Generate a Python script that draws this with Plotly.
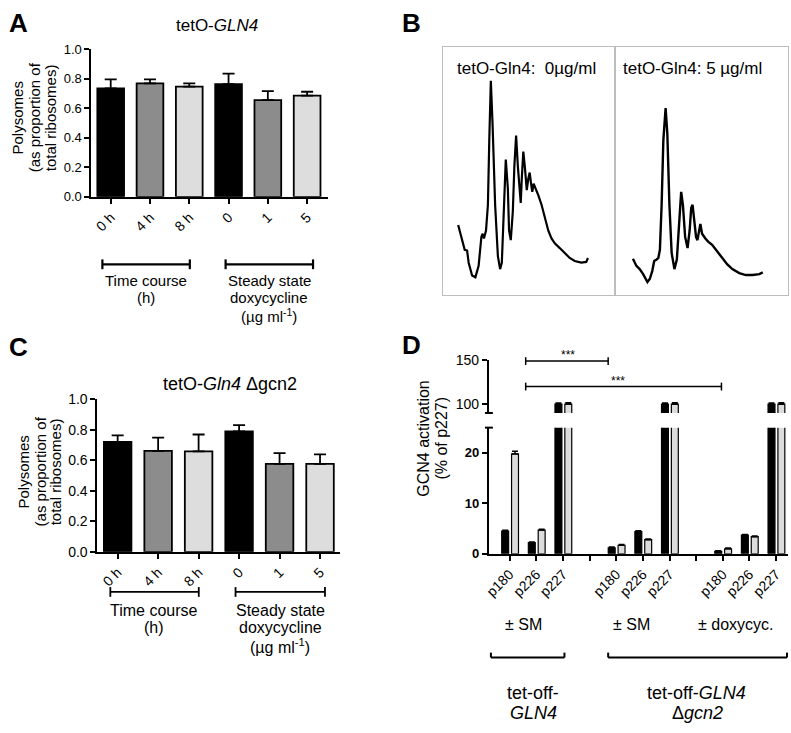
import plotly.graph_objects as go

W, H = 791, 733
def px(x): return x / W
def py(y): return 1 - y / H

FONT = "Arial, Liberation Sans, sans-serif"

# ---------------- data ----------------
a_cats = ["0 h", "4 h", "8 h", "0", "1", "5"]
a_vals = [0.733, 0.768, 0.746, 0.762, 0.654, 0.685]
a_errs = [0.062, 0.027, 0.022, 0.072, 0.061, 0.026]

c_cats = ["0 h", "4 h", "8 h", "0", "1", "5"]
c_vals = [0.720, 0.662, 0.658, 0.790, 0.577, 0.577]
c_errs = [0.043, 0.086, 0.111, 0.041, 0.070, 0.062]

bar_colors = ["#000000", "#8c8c8c", "#dddddd", "#000000", "#8c8c8c", "#dddddd"]

# polysome profiles (gradient position %, absorbance a.u.)
b0_pos = [8.7, 10.6, 12.5, 13.9, 14.8, 16.8, 18.7, 20.6, 22.2, 22.9, 23.7, 24.9, 26.0, 26.8, 27.7,
          28.7, 30.2, 31.8, 33.1, 34.1, 35.1, 36.4, 37.6, 38.3, 39.3, 40.5, 41.4, 42.4, 43.4, 44.3,
          45.1, 45.7, 46.6, 47.6, 48.6, 49.5, 50.3, 51.0, 51.8, 52.6, 53.4, 54.3, 55.3, 57.2, 59.1,
          61.1, 63.0, 64.9, 67.8, 70.7, 73.6, 76.5, 80.3, 83.2, 84.2]
b0_abs = [28.1, 23.3, 18.1, 17.8, 12.9, 7.7, 7.0, 11.6, 23.3, 24.6, 22.7, 25.9, 36.3, 62.4, 86.4,
          68.9, 36.3, 15.5, 10.3, 12.9, 29.8, 54.6, 42.9, 25.9, 22.0, 33.7, 52.0, 64.3, 52.0, 41.5,
          37.0, 46.8, 57.8, 50.7, 42.2, 46.8, 49.3, 45.4, 41.5, 44.8, 43.5, 41.5, 40.2, 36.3, 31.1,
          25.9, 22.7, 20.7, 18.8, 16.8, 14.8, 13.6, 12.9, 13.2, 14.8]
b5_pos = [10.3, 12.3, 14.2, 16.2, 18.7, 20.1, 21.5, 22.6, 24.0, 25.0, 25.9, 26.9, 27.9, 29.2, 30.2,
          31.4, 32.7, 34.3, 35.7, 37.0, 38.2, 39.2, 40.5, 41.9, 43.1, 44.0, 44.8, 45.8, 46.8, 47.6,
          48.4, 49.3, 50.3, 51.3, 52.2, 53.8, 56.1, 59.1, 62.0, 64.9, 67.8, 71.8, 75.6, 79.5, 83.4, 85.4]
b5_abs = [14.5, 11.6, 10.3, 8.3, 5.1, 6.4, 9.6, 13.6, 14.2, 14.8, 18.1, 36.3, 62.4, 75.4, 65.0,
          36.3, 16.8, 10.3, 14.2, 29.8, 41.5, 36.3, 23.3, 18.8, 25.9, 35.0, 36.3, 29.8, 23.3, 22.0,
          25.9, 28.5, 24.6, 23.3, 22.7, 21.4, 20.1, 17.4, 14.8, 12.2, 10.3, 8.7, 7.9, 7.9, 8.3, 9.0]

d_labels = ["p180", "p226", "p227", "", "p180", "p226", "p227", "", "p180", "p226", "p227"]
d_black = [4.5, 2.2, 100, None, 1.2, 4.4, 100, None, 0.5, 3.7, 100]
d_black_err = [0.15, 0.15, 1.2, None, 0.15, 0.15, 1.2, None, 0.1, 0.15, 1.2]
d_grey = [19.8, 4.7, 100, None, 1.7, 2.8, 100, None, 1.0, 3.4, 100]
d_grey_err = [0.5, 0.15, 1.5, None, 0.15, 0.15, 1.5, None, 0.15, 0.15, 1.5]
d_x = list(range(len(d_labels)))
d_lab_x = [i for i, s in zip(d_x, d_labels) if s]
d_lab_t = [s for s in d_labels if s]
d_gap_x = [i for i, s in zip(d_x, d_labels) if not s]

# ---------------- traces ----------------
fig = go.Figure()

def poly_bars(cats, vals, errs, xa, ya):
    fig.add_trace(go.Bar(
        x=cats, y=vals, xaxis=xa, yaxis=ya, width=0.68,
        marker=dict(color=bar_colors, line=dict(color="black", width=1.8)),
        error_y=dict(type="data", array=errs, arrayminus=[0] * len(errs), symmetric=False,
                     color="black", thickness=1.8, width=6),
        showlegend=False))

poly_bars(a_cats, a_vals, a_errs, "x", "y")
poly_bars(c_cats, c_vals, c_errs, "x2", "y2")

fig.add_trace(go.Scatter(x=b0_pos, y=b0_abs, xaxis="x3", yaxis="y3", mode="lines",
                         line=dict(color="black", width=2.2), showlegend=False))
fig.add_trace(go.Scatter(x=b5_pos, y=b5_abs, xaxis="x4", yaxis="y4", mode="lines",
                         line=dict(color="black", width=2.4), showlegend=False))

for xa, ya in [("x5", "y5"), ("x6", "y6")]:
    fig.add_trace(go.Bar(
        x=d_x, y=d_black, xaxis=xa, yaxis=ya, width=0.26, offset=-0.30,
        marker=dict(color="black", line=dict(color="black", width=1.2)),
        error_y=dict(type="data", array=d_black_err, arrayminus=[0] * len(d_x), symmetric=False,
                     color="black", thickness=1.5, width=3),
        showlegend=False))
    fig.add_trace(go.Bar(
        x=d_x, y=d_grey, xaxis=xa, yaxis=ya, width=0.26, offset=0.07,
        marker=dict(color="#dcdcdc", line=dict(color="black", width=1.2)),
        error_y=dict(type="data", array=d_grey_err, arrayminus=[0] * len(d_x), symmetric=False,
                     color="black", thickness=1.5, width=3),
        showlegend=False))

# ---------------- axes ----------------
base = dict(showline=True, linecolor="black", linewidth=2, ticks="outside", tickwidth=2,
            ticklen=5, tickcolor="black", showgrid=False, zeroline=False,
            tickfont=dict(family=FONT, size=13, color="black"))
boxax = dict(showline=True, mirror=True, linecolor="#bdbdbd", linewidth=1,
             showticklabels=False, ticks="", showgrid=False, zeroline=False)

layout = dict(
    width=W, height=H, margin=dict(l=0, r=0, t=0, b=0),
    paper_bgcolor="white", plot_bgcolor="white", barmode="overlay",
    font=dict(family=FONT, color="black"),
    xaxis=dict(base, type="category", domain=[px(87), px(325)], range=[-0.49, 5.53],
               anchor="y", tickangle=-45, tickfont=dict(family=FONT, size=14)),
    yaxis=dict(base, domain=[py(193), py(42)], range=[0, 1.0], anchor="x",
               tickvals=[0, 0.2, 0.4, 0.6, 0.8, 1.0], tickformat=".1f"),
    xaxis2=dict(base, type="category", domain=[px(93), px(337)], range=[-0.50, 5.49],
                anchor="y2", tickangle=-45, tickfont=dict(family=FONT, size=14)),
    yaxis2=dict(base, domain=[py(556), py(400)], range=[0, 1.0], anchor="x2",
                tickvals=[0, 0.2, 0.4, 0.6, 0.8, 1.0], tickformat=".1f",
                tickfont=dict(family=FONT, size=14)),
    xaxis3=dict(boxax, domain=[px(441), px(614)], range=[0, 100], anchor="y3"),
    yaxis3=dict(boxax, domain=[py(293), py(40)], range=[0, 100], anchor="x3"),
    xaxis4=dict(boxax, domain=[px(614), px(788)], range=[0, 100], anchor="y4"),
    yaxis4=dict(boxax, domain=[py(293), py(40)], range=[0, 100], anchor="x4"),
    xaxis5=dict(base, domain=[px(487), px(788)], range=[-0.78, 10.45], anchor="y5",
                tickmode="array", tickvals=d_lab_x, ticktext=d_lab_t, tickangle=-45,
                tickfont=dict(family=FONT, size=14),
                minor=dict(tickmode="array", tickvals=d_gap_x, ticks="outside", ticklen=5,
                           tickwidth=2, tickcolor="black", showgrid=False)),
    yaxis5=dict(base, domain=[py(558), py(429)], range=[0, 25], anchor="x5",
                tickvals=[0, 10, 20], ticktext=["<b>0</b>", "<b>10</b>", "<b>20</b>"],
                tickfont=dict(family=FONT, size=13)),
    xaxis6=dict(domain=[px(487), px(788)], range=[-0.78, 10.45], anchor="y6", matches="x5",
                visible=False),
    yaxis6=dict(base, domain=[py(414), py(360)], range=[90, 150], anchor="x6",
                tickvals=[100, 150], tickfont=dict(family=FONT, size=14)),
)
fig.update_layout(**layout)

# ---------------- shapes ----------------
shapes = []
def line(x0, y0, x1, y1, w=2):
    shapes.append(dict(type="line", xref="paper", yref="paper", x0=px(x0), y0=py(y0),
                       x1=px(x1), y1=py(y1), line=dict(color="black", width=w)))

def hbracket(x0, x1, y, up=5, down=5, w=2.2):
    line(x0, y, x1, y, w)
    line(x0, y - up, x0, y + down, w)
    line(x1, y - up, x1, y + down, w)

hbracket(98, 186, 262)
hbracket(222, 310, 262)
hbracket(106, 195, 597, w=1.8)
hbracket(232, 322, 597, w=1.8)
hbracket(524, 607, 361, up=4, down=4, w=1.5)
hbracket(524, 721, 387, up=4, down=4, w=1.5)
line(483, 414, 491, 414, 2)
line(483, 429, 491, 429, 2)
hbracket(489, 563, 664, up=5, down=0, w=2)
hbracket(607, 787, 664, up=5, down=0, w=2)
fig.update_layout(shapes=shapes)

# ---------------- annotations ----------------
ann = []
def text(x, y, s, size=15, angle=0, xanchor="center", yanchor="middle"):
    ann.append(dict(x=px(x), y=py(y), xref="paper", yref="paper", text=s, showarrow=False,
                    textangle=angle, xanchor=xanchor, yanchor=yanchor,
                    font=dict(family=FONT, size=size, color="black")))

for lab, x, y in [("A", 14, 15), ("B", 409, 15), ("C", 14, 347), ("D", 409, 345)]:
    text(x, y, "<b>" + lab + "</b>", size=26)

# panel A
text(213, 18, "tetO-<i>GLN4</i>", size=17)
for s, x in [("Polysomes", 13), ("(as proportion of", 30), ("total ribosomes)", 46)]:
    text(x, 112, s, size=15, angle=-90)
text(142, 279, "Time course", size=15)
text(142, 296, "(h)", size=15)
text(266, 279, "Steady state", size=15)
text(266, 296, "doxycycline", size=15)
text(266, 314, "(µg ml<sup>-1</sup>)", size=15)

# panel B
text(453, 62, "tetO-Gln4:\u00a0\u00a00µg/ml", size=17, xanchor="left")
text(620, 62, "tetO-Gln4: 5 µg/ml", size=17, xanchor="left")

# panel C
text(226, 384, "tetO-<i>Gln4</i> Δgcn2", size=18)
for s, x in [("Polysomes", 19), ("(as proportion of", 36), ("total ribosomes)", 51)]:
    text(x, 474, s, size=15, angle=-90)
text(150, 616, "Time course", size=16)
text(150, 633, "(h)", size=16)
text(277, 616, "Steady state", size=16)
text(277, 633, "doxycycline", size=16)
text(277, 652, "(µg ml<sup>-1</sup>)", size=16)

# panel D
text(421, 440, "GCN4 activation", size=16, angle=-90)
text(439, 440, "(% of p227)", size=16, angle=-90)
text(567, 355, "***", size=12)
text(617, 381, "***", size=12)
text(522, 630, "± SM", size=16)
text(630, 630, "± SM", size=16)
text(735, 630, "± doxycyc.", size=16)
text(531, 700, "tet-off-", size=18)
text(532, 721, "<i>GLN4</i>", size=18)
text(696, 700, "tet-off-<i>GLN4</i>", size=18)
text(697, 721, "Δ<i>gcn2</i>", size=18)

fig.update_layout(annotations=ann)

fig.write_html("out.html", config={"displayModeBar": False},
               post_script="document.body.style.margin='0px';")
